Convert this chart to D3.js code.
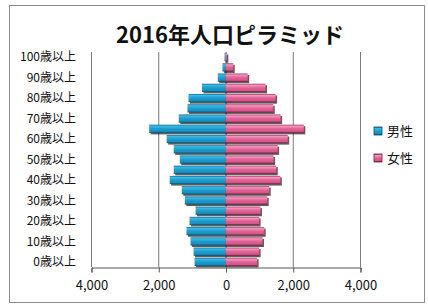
<!DOCTYPE html>
<html>
<head>
<meta charset="utf-8">
<script src="https://cdn.jsdelivr.net/npm/d3@7"></script>
<style>
  body { margin: 0; background: #fff; }
  text { font-family: "Noto Sans CJK JP", sans-serif; fill: #111; }
</style>
</head>
<body>
<svg id="chart"></svg>
<script>
// Age groups, bottom to top (5-year steps)
const ages = ["0歳以上", "5歳以上", "10歳以上", "15歳以上", "20歳以上", "25歳以上", "30歳以上",
  "35歳以上", "40歳以上", "45歳以上", "50歳以上", "55歳以上", "60歳以上", "65歳以上",
  "70歳以上", "75歳以上", "80歳以上", "85歳以上", "90歳以上", "95歳以上", "100歳以上"];

// Values
const male   = [920, 950, 1040, 1160, 1070, 890, 1210, 1300, 1660, 1540, 1360, 1540, 1750, 2270, 1390, 1130, 1100, 700, 230, 90, 30];
const female = [940, 1000, 1100, 1150, 1000, 1040, 1240, 1300, 1630, 1510, 1430, 1550, 1850, 2330, 1640, 1420, 1490, 1190, 660, 230, 40];

const xTicks = [-4000, -2000, 0, 2000, 4000];
const seriesNames = ["男性", "女性"];
const title = "2016年人口ピラミッド";

// Dimensions
const W = 428, H = 307;
const margin = {top: 52, right: 68, bottom: 40, left: 91};
const width = W - margin.left - margin.right;
const height = H - margin.top - margin.bottom;

const root = d3.select("#chart").attr("width", W).attr("height", H);

// Outer chart border
root.append("rect")
  .attr("x", 9.5).attr("y", 5.5)
  .attr("width", 415).attr("height", 297)
  .attr("fill", "#fff")
  .attr("stroke", "#8c8c8c");

// Gradients for the bevelled bars
const defs = root.append("defs");
function gradient(id, stops) {
  const g = defs.append("linearGradient").attr("id", id)
    .attr("x1", 0).attr("y1", 0).attr("x2", 0).attr("y2", 1);
  stops.forEach(([o, c]) => g.append("stop").attr("offset", o).attr("stop-color", c));
}
gradient("blue", [["0%", "#0c6f99"], ["18%", "#3fb8e2"], ["50%", "#1b9ecf"], ["82%", "#168ebf"], ["100%", "#08506e"]]);
gradient("pink", [["0%", "#a8355f"], ["18%", "#f397bd"], ["50%", "#e06397"], ["82%", "#d65587"], ["100%", "#72193e"]]);

// Title
root.append("text")
  .attr("x", 230).attr("y", 43)
  .attr("text-anchor", "middle")
  .attr("font-size", "22px")
  .attr("font-weight", "bold")
  .text(title);

const svg = root.append("g")
  .attr("transform", `translate(${margin.left}, ${margin.top})`);

// Scales
const x = d3.scaleLinear()
  .domain([-4000, 4000])
  .range([0, width]);
const y = d3.scaleBand()
  .domain(ages.slice().reverse())
  .range([0, height])
  .paddingInner(0.2)
  .paddingOuter(0.1);

// Vertical gridlines
svg.selectAll("line.grid")
  .data(xTicks)
  .enter().append("line")
  .attr("class", "grid")
  .attr("x1", (d) => x(d) + 0.5).attr("x2", (d) => x(d) + 0.5)
  .attr("y1", 0).attr("y2", height)
  .attr("stroke", (d) => d === 0 ? "#555" : "#7a7a7a")
  .attr("stroke-width", 1);

// Bars
function drawBars(values, cls, fill, toLeft) {
  const g = svg.append("g").attr("class", cls);
  const bx = (d) => toLeft ? x(-d) : x(0);
  const bw = (d) => toLeft ? x(0) - x(-d) : x(d) - x(0);
  g.selectAll("rect.shadow")
    .data(values)
    .enter().append("rect")
    .attr("class", "shadow")
    .attr("x", (d) => bx(d) + 1.5)
    .attr("y", (d, i) => y(ages[i]) + 1.5)
    .attr("width", bw)
    .attr("height", y.bandwidth())
    .attr("fill", "#1a1a1a")
    .attr("opacity", 0.7);
  g.selectAll("rect.bar")
    .data(values)
    .enter().append("rect")
    .attr("class", "bar")
    .attr("x", bx)
    .attr("y", (d, i) => y(ages[i]))
    .attr("width", bw)
    .attr("height", y.bandwidth())
    .attr("fill", fill);
}
drawBars(male, "male", "url(#blue)", true);
drawBars(female, "female", "url(#pink)", false);

// Category labels (every other one)
svg.selectAll("text.cat")
  .data(ages.filter((d, i) => i % 2 === 0))
  .enter().append("text")
  .attr("class", "cat")
  .attr("x", -15)
  .attr("y", (d) => y(d) + y.bandwidth() / 2)
  .attr("dy", "0.36em")
  .attr("text-anchor", "end")
  .attr("font-size", "12px")
  .text((d) => d);

// X axis
const xAxis = d3.axisBottom(x)
  .tickValues(xTicks)
  .tickSize(5)
  .tickPadding(8)
  .tickFormat((d) => d3.format(",")(Math.abs(d)));
const ax = svg.append("g")
  .attr("transform", `translate(0.5, ${height + 0.5})`)
  .call(xAxis);
ax.select(".domain").attr("stroke", "#555");
ax.selectAll(".tick line").attr("stroke", "#555");
ax.selectAll(".tick text")
  .attr("font-family", "'Noto Sans CJK JP', sans-serif")
  .attr("font-size", "13px")
  .attr("fill", "#111");

// Legend
const legend = root.append("g")
  .attr("transform", "translate(374, 127)");
legend.selectAll("rect")
  .data(seriesNames)
  .enter().append("rect")
  .attr("x", 0)
  .attr("y", (d, i) => i * 27)
  .attr("width", 8).attr("height", 8)
  .attr("fill", (d, i) => i === 0 ? "url(#blue)" : "url(#pink)")
  .attr("stroke", (d, i) => i === 0 ? "#08506e" : "#72193e")
  .attr("stroke-width", 0.8);
legend.selectAll("text")
  .data(seriesNames)
  .enter().append("text")
  .attr("x", 13)
  .attr("y", (d, i) => i * 27 + 4)
  .attr("dy", "0.36em")
  .attr("font-size", "13px")
  .text((d) => d);
</script>
</body>
</html>
